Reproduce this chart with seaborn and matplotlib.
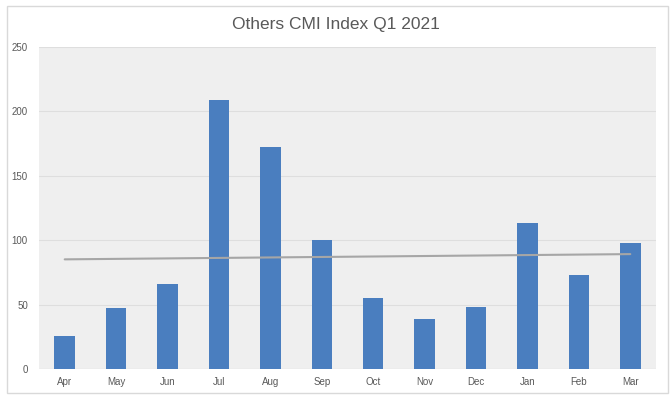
import numpy as np
import pandas as pd
import matplotlib.pyplot as plt
import seaborn as sns
from matplotlib.patches import Rectangle

months = ["Apr", "May", "Jun", "Jul", "Aug", "Sep", "Oct", "Nov", "Dec", "Jan", "Feb", "Mar"]
cmi = [26, 47, 66, 209, 172, 100, 55, 39, 48, 113, 73, 98]
yticks = [0, 50, 100, 150, 200, 250]

data = pd.DataFrame({"Month": months, "CMI": cmi})

sns.set_theme(style="white")
plt.rcParams["font.family"] = ["Liberation Sans", "DejaVu Sans"]

fig = plt.figure(figsize=(6.72, 3.99), dpi=100)
fig.patch.set_facecolor("white")
fig.patches.append(Rectangle((7 / 672, 6 / 399), 661 / 672, 387 / 399, transform=fig.transFigure,
                             fill=False, edgecolor="#d9d9d9", linewidth=1))

ax = fig.add_axes([39 / 672, 30 / 399, 617 / 672, 322 / 399])
ax.set_facecolor("#efefef")
sns.barplot(data=data, x="Month", y="CMI", color="#4a7ebf", width=0.4, saturation=1,
            linewidth=0, ax=ax, zorder=3)

# linear trendline
x = np.arange(len(cmi))
k, b = np.polyfit(x, cmi, 1)
ax.plot(x, k * x + b, color="#a6a6a6", linewidth=1.5, zorder=4)

ax.set_xlim(-0.5, len(months) - 0.5)
ax.set_ylim(0, 250)
ax.set_yticks(yticks)
ax.yaxis.grid(True, color="#dedede", linewidth=0.8, zorder=0)
ax.set_axisbelow(True)
for s in ax.spines.values():
    s.set_visible(False)
ax.axhline(0, color="#d0d0d0", linewidth=0.8, zorder=2)
ax.tick_params(axis="both", length=0, labelsize=7, colors="#595959", pad=6)
ax.tick_params(axis="y", pad=8)
ax.set_xlabel("")
ax.set_ylabel("")
fig.text(0.5, 1 - 25 / 399, "Others CMI Index Q1 2021", ha="center", va="center",
         fontsize=12.5, color="#595959")

fig.savefig("out.png", dpi=100)
